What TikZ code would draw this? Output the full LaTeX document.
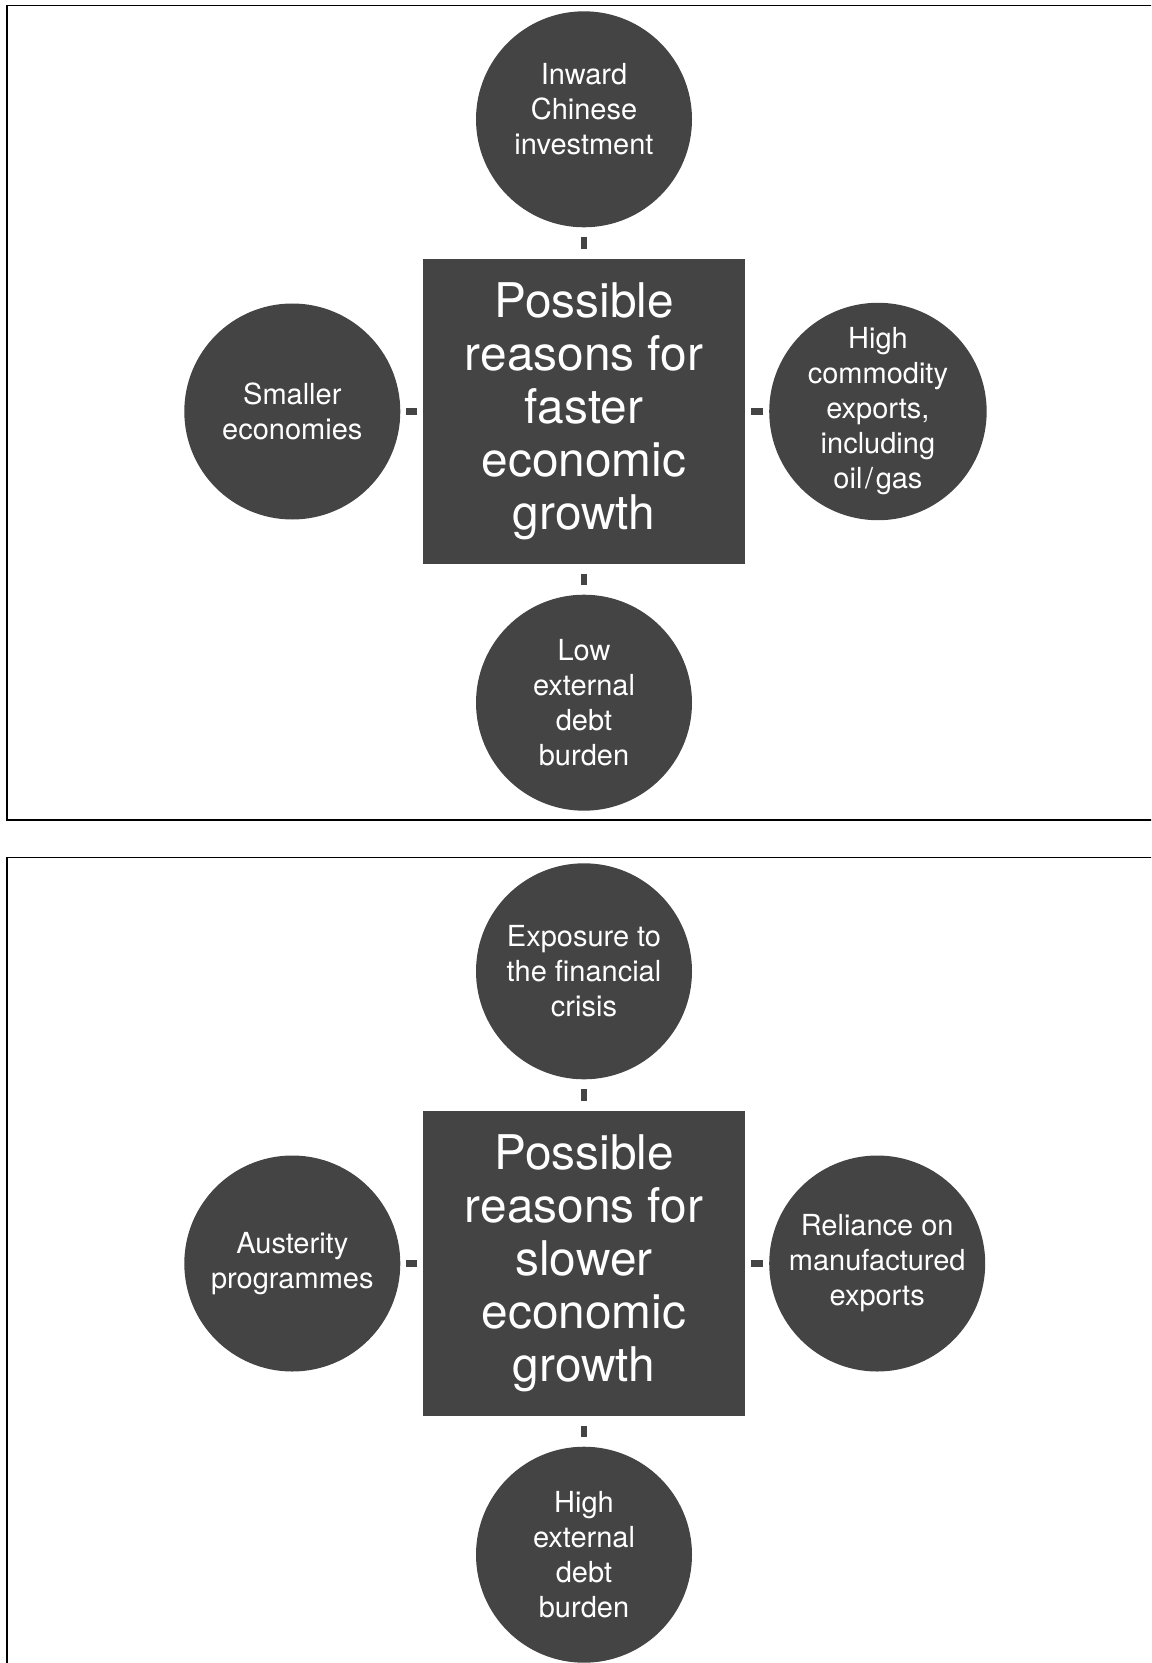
\documentclass[tikz,border=0pt]{standalone}
\usepackage{fontspec}
\setmainfont{TeX Gyre Heros}
\usepackage{tikz}
\usetikzlibrary{positioning}
\definecolor{bubblegray}{HTML}{444444}
\tikzset{
  reason/.style={circle,fill=bubblegray,text=white,minimum size=4.32cm,inner sep=0pt,align=center,font=\fontsize{16.5}{19.9}\selectfont},
  hub/.style={rectangle,fill=bubblegray,text=white,minimum width=6.44cm,minimum height=6.1cm,inner sep=0pt,align=center,font=\fontsize{27.2}{30.2}\selectfont},
  vlink/.style={line width=0.125cm,draw=bubblegray,shorten >=0.19cm,shorten <=0.19cm},
  hlink/.style={line width=0.125cm,draw=bubblegray,shorten >=0.11cm,shorten <=0.11cm},
  panel/.style={draw=black,line width=1.1pt},
}
\begin{document}
\begin{tikzpicture}
	    \useasboundingbox (0,0) rectangle (23.02,-33.26);
	    \clip (0,0) rectangle (23.02,-33.26);
	    % frames
	    \draw[panel] (0.14,-0.11) rectangle (24,-16.4);
	    \draw[panel] (0.14,-17.15) rectangle (24,-34);
	    % faster growth
	    \node[hub] (fastHub) at (11.68,-8.23) {Possible\\reasons for\\faster\\economic\\growth};
	    \node[reason,above=0.62cm of fastHub,text depth=0.4cm] (fastTop) {Inward\\Chinese\\investment};
	    \node[reason,left=0.44cm of fastHub] (fastLeft) {Smaller\\economies};
	    \node[reason,right=0.47cm of fastHub] (fastRight) {High\\commodity\\exports,\\including\\oil\kern1.5pt/\kern1.5pt gas};
	    \node[reason,below=0.6cm of fastHub] (fastBottom) {Low\\external\\debt\\burden};
	    \draw[vlink] (fastTop) -- (fastHub);
	    \draw[hlink] (fastLeft) -- (fastHub);
	    \draw[hlink] (fastRight) -- (fastHub);
	    \draw[vlink] (fastBottom) -- (fastHub);
	    % slower growth
	    \node[hub] (slowHub) at (11.68,-25.27) {Possible\\reasons for\\slower\\economic\\growth};
	    \node[reason,above=0.62cm of slowHub] (slowTop) {Exposure to\\the financial\\crisis};
	    \node[reason,left=0.44cm of slowHub] (slowLeft) {Austerity\\programmes};
	    \node[reason,right=0.47cm of slowHub] (slowRight) {Reliance on\\manufactured\\exports};
	    \node[reason,below=0.6cm of slowHub] (slowBottom) {High\\external\\debt\\burden};
	    \draw[vlink] (slowTop) -- (slowHub);
	    \draw[hlink] (slowLeft) -- (slowHub);
	    \draw[hlink] (slowRight) -- (slowHub);
	    \draw[vlink] (slowBottom) -- (slowHub);
	\end{tikzpicture}
\end{document}
